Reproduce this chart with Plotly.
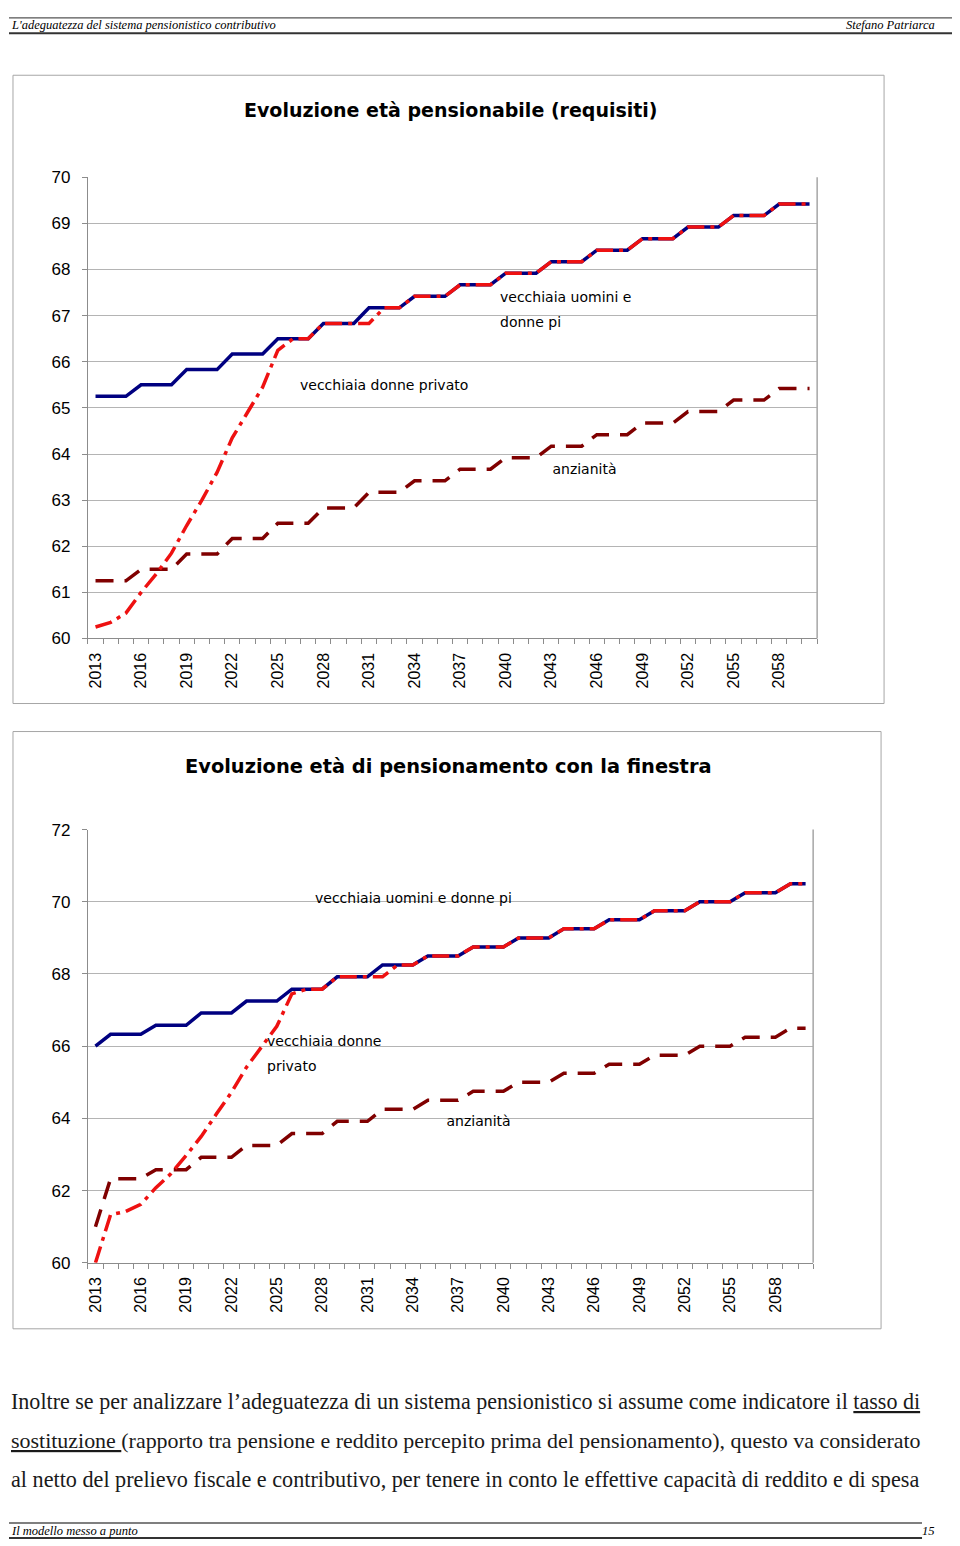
import plotly.graph_objects as go

# ---------------- data ----------------
years = list(range(2013, 2061))
tick_years = [2013, 2016, 2019, 2022, 2025, 2028, 2031, 2034, 2037, 2040,
              2043, 2046, 2049, 2052, 2055, 2058]
tick_labels = [str(v) for v in tick_years]

# Chart 1: Evoluzione età pensionabile (requisiti)
c1_uomini = [65.25, 65.25, 65.25, 65.5, 65.5, 65.5, 65.83, 65.83, 65.83,
             66.17, 66.17, 66.17, 66.5, 66.5, 66.5, 66.83, 66.83, 66.83,
             67.17, 67.17, 67.17, 67.42, 67.42, 67.42, 67.67, 67.67, 67.67,
             67.92, 67.92, 67.92, 68.17, 68.17, 68.17, 68.42, 68.42, 68.42,
             68.67, 68.67, 68.67, 68.92, 68.92, 68.92, 69.17, 69.17, 69.17,
             69.42, 69.42, 69.42]
c1_donne_priv = [60.25, 60.35, 60.55, 61.0, 61.4, 61.85, 62.45, 63.0, 63.6,
                 64.35, 64.9, 65.45, 66.25, 66.5, 66.5, 66.83, 66.83, 66.83,
                 66.83, 67.17, 67.17, 67.42, 67.42, 67.42, 67.67, 67.67, 67.67,
                 67.92, 67.92, 67.92, 68.17, 68.17, 68.17, 68.42, 68.42, 68.42,
                 68.67, 68.67, 68.67, 68.92, 68.92, 68.92, 69.17, 69.17, 69.17,
                 69.42, 69.42, 69.42]
c1_anzianita = [61.25, 61.25, 61.25, 61.5, 61.5, 61.5, 61.83, 61.83, 61.83,
                62.17, 62.17, 62.17, 62.5, 62.5, 62.5, 62.83, 62.83, 62.83,
                63.17, 63.17, 63.17, 63.42, 63.42, 63.42, 63.67, 63.67, 63.67,
                63.92, 63.92, 63.92, 64.17, 64.17, 64.17, 64.42, 64.42, 64.42,
                64.67, 64.67, 64.67, 64.92, 64.92, 64.92, 65.17, 65.17, 65.17,
                65.42, 65.42, 65.42]

# Chart 2: Evoluzione età di pensionamento con la finestra
c2_uomini = [66.0, 66.33, 66.33, 66.33, 66.58, 66.58, 66.58, 66.92, 66.92, 66.92,
             67.25, 67.25, 67.25, 67.58, 67.58, 67.58, 67.92, 67.92, 67.92,
             68.25, 68.25, 68.25, 68.5, 68.5, 68.5, 68.75, 68.75, 68.75,
             69.0, 69.0, 69.0, 69.25, 69.25, 69.25, 69.5, 69.5, 69.5,
             69.75, 69.75, 69.75, 70.0, 70.0, 70.0, 70.25, 70.25, 70.25,
             70.5, 70.5]
c2_donne_priv = [60.0, 61.33, 61.42, 61.62, 62.08, 62.47, 62.97, 63.5, 64.12,
                 64.72, 65.42, 65.98, 66.55, 67.45, 67.58, 67.58, 67.92, 67.92,
                 67.92, 67.92, 68.25, 68.25, 68.5, 68.5, 68.5, 68.75, 68.75, 68.75,
                 69.0, 69.0, 69.0, 69.25, 69.25, 69.25, 69.5, 69.5, 69.5,
                 69.75, 69.75, 69.75, 70.0, 70.0, 70.0, 70.25, 70.25, 70.25,
                 70.5, 70.5]
c2_anzianita = [61.0, 62.33, 62.33, 62.33, 62.58, 62.58, 62.58, 62.92, 62.92, 62.92,
                63.25, 63.25, 63.25, 63.58, 63.58, 63.58, 63.92, 63.92, 63.92,
                64.25, 64.25, 64.25, 64.5, 64.5, 64.5, 64.75, 64.75, 64.75,
                65.0, 65.0, 65.0, 65.25, 65.25, 65.25, 65.5, 65.5, 65.5,
                65.75, 65.75, 65.75, 66.0, 66.0, 66.0, 66.25, 66.25, 66.25,
                66.5, 66.5]

# ---------------- layout helpers ----------------
# The page places the figure ~8px from the left and ~17px from the top, and the
# captured page is squeezed vertically by about 0.987; positions below are given
# in the target picture's pixels and converted here.
OFFX, OFFY = 8, 17
SY = 0.9872
W, H = 960 - 2 * OFFX, 1538


def px(x):
    return (x - OFFX) / W


def py(y):
    return 1 - (y / SY - OFFY) / H


NAVY = "#000080"
RED = "#ee1111"
DARKRED = "#800000"
GRID = "#b4b4b4"
AXIS = "#8c8c8c"
LABEL_FONT = "Comic Sans MS, DejaVu Sans, sans-serif"
TICK_FONT = "Liberation Sans, Arial, sans-serif"
SERIF = "Liberation Serif, Times New Roman, serif"

fig = go.Figure()

for xa, ya, anz, uom, don in [("x", "y", c1_anzianita, c1_uomini, c1_donne_priv),
                              ("x2", "y2", c2_anzianita, c2_uomini, c2_donne_priv)]:
    fig.add_trace(go.Scatter(x=years, y=anz, mode="lines", xaxis=xa, yaxis=ya,
                             name="anzianità",
                             line=dict(color=DARKRED, width=3.5, dash="18px,11px")))
    fig.add_trace(go.Scatter(x=years, y=uom, mode="lines", xaxis=xa, yaxis=ya,
                             name="vecchiaia uomini e donne pi",
                             line=dict(color=NAVY, width=3.5)))
    fig.add_trace(go.Scatter(x=years, y=don, mode="lines", xaxis=xa, yaxis=ya,
                             name="vecchiaia donne privato",
                             line=dict(color=RED, width=3.5, dash="17px,6px,4px,6px")))

# "anzianità" labels, cut at the bottom like in the original (clipped by a small overlay axis)
for xa, ya in [("x3", "y3"), ("x4", "y4")]:
    fig.add_trace(go.Scatter(x=[0], y=[6], mode="text", text=["anzianità"],
                             textposition="middle right", cliponaxis=True,
                             xaxis=xa, yaxis=ya, hoverinfo="skip",
                             textfont=dict(family=LABEL_FONT, size=14, color="#000")))


def xaxis_cfg(x0, x1, anchor):
    return dict(domain=[px(x0), px(x1)], range=[2012.5, 2060.5], anchor=anchor,
                tickmode="array", tickvals=tick_years, ticktext=tick_labels,
                tickangle=-90, tickfont=dict(family=TICK_FONT, size=16, color="#000"),
                ticks="", showgrid=False, zeroline=False,
                showline=True, linecolor=AXIS, linewidth=1,
                ticklabelstandoff=7,
                minor=dict(tickmode="linear", tick0=2012.5, dtick=1, ticks="outside",
                           ticklen=5, tickcolor=AXIS, showgrid=False),
                fixedrange=True)


def yaxis_cfg(y0, y1, rng, dt, anchor):
    return dict(domain=[py(y1), py(y0)], range=rng, dtick=dt, tick0=rng[0], anchor=anchor,
                tickfont=dict(family=TICK_FONT, size=17, color="#000"),
                showgrid=True, gridcolor=GRID, gridwidth=1, zeroline=False,
                showline=True, linecolor=AXIS, linewidth=1,
                ticks="outside", ticklen=5, tickcolor=AXIS,
                ticklabelstandoff=8, fixedrange=True)


def hidden_axis(d, rng, anchor):
    return dict(domain=d, range=rng, visible=False, showgrid=False, zeroline=False,
                anchor=anchor, fixedrange=True)


fig.update_layout(
    width=W, height=H,
    margin=dict(l=0, r=0, t=0, b=0),
    paper_bgcolor="white", plot_bgcolor="rgba(0,0,0,0)",
    showlegend=False,
    xaxis=xaxis_cfg(87, 817, "y"),
    yaxis=yaxis_cfg(177, 638, [60, 70], 1, "x"),
    xaxis2=xaxis_cfg(87, 813, "y2"),
    yaxis2=yaxis_cfg(829, 1262, [60, 72], 2, "x2"),
    xaxis3=hidden_axis([px(552), px(680)], [0, 128], "y3"),
    yaxis3=hidden_axis([py(476.5), py(446.5)], [0, 30], "x3"),
    xaxis4=hidden_axis([px(446), px(580)], [0, 134], "y4"),
    yaxis4=hidden_axis([py(1128), py(1098)], [0, 30], "x4"),
)

shapes = []
# chart frames
shapes.append(dict(type="rect", xref="paper", yref="paper", x0=px(12), x1=px(884),
                   y0=py(703), y1=py(75), line=dict(color="#a6a6a6", width=1)))
shapes.append(dict(type="rect", xref="paper", yref="paper", x0=px(12), x1=px(881),
                   y0=py(1328), y1=py(731), line=dict(color="#a6a6a6", width=1)))
# plot-area borders (right side)
shapes.append(dict(type="line", xref="paper", yref="paper", x0=px(817), x1=px(817),
                   y0=py(638), y1=py(177), line=dict(color="#a6a6a6", width=1.5)))
shapes.append(dict(type="line", xref="paper", yref="paper", x0=px(813), x1=px(813),
                   y0=py(1262), y1=py(829), line=dict(color="#a6a6a6", width=1.5)))
# header and footer rules
shapes.append(dict(type="line", xref="paper", yref="paper", x0=px(8), x1=px(952),
                   y0=py(17.6), y1=py(17.6), line=dict(color="#555", width=1.2)))
shapes.append(dict(type="line", xref="paper", yref="paper", x0=px(8), x1=px(952),
                   y0=py(33), y1=py(33), line=dict(color="#333", width=2)))
shapes.append(dict(type="line", xref="paper", yref="paper", x0=px(8), x1=px(922),
                   y0=py(1522), y1=py(1522), line=dict(color="#555", width=1.5)))
shapes.append(dict(type="line", xref="paper", yref="paper", x0=px(8), x1=px(922),
                   y0=py(1537), y1=py(1537), line=dict(color="#333", width=2)))
fig.update_layout(shapes=shapes)

ann = []


def text(x, y, s, size, family, xanchor="left", color="#000", **kw):
    ann.append(dict(x=px(x), y=py(y), xref="paper", yref="paper", text=s,
                    showarrow=False, xanchor=xanchor, yanchor="middle",
                    font=dict(family=family, size=size, color=color), **kw))


# header / footer
text(8, 25, "<i>L'adeguatezza del sistema pensionistico contributivo</i>", 12.5, SERIF)
text(937, 25, "<i>Stefano Patriarca</i>", 12.5, SERIF, xanchor="right")
text(8, 1530, "<i>Il modello messo a punto</i>", 12.5, SERIF)
text(937, 1530, "<i>15</i>", 12.5, SERIF, xanchor="right")

# chart titles
text(450, 110, "<b>Evoluzione età pensionabile (requisiti)</b>", 19, LABEL_FONT, xanchor="center")
text(448, 766, "<b>Evoluzione età di pensionamento con la finestra</b>", 19.4, LABEL_FONT, xanchor="center")

# chart 1 series labels
text(498, 297, "vecchiaia uomini e", 14, LABEL_FONT)
text(498, 322, "donne pi", 14, LABEL_FONT)
text(297, 385, "vecchiaia donne privato", 14, LABEL_FONT)

# chart 2 series labels
text(312, 897, "vecchiaia uomini e donne pi", 14, LABEL_FONT)
text(264, 1040, "vecchiaia donne", 14, LABEL_FONT)
text(264, 1065, "privato", 14, LABEL_FONT)

# body text
text(8, 1401, "Inoltre se per analizzare l’adeguatezza di un sistema pensionistico si assume come indicatore il <u>tasso di</u>", 22.05, SERIF, color="#1a1a1a")
text(8, 1440, "<u>sostituzione </u>(rapporto tra pensione e reddito percepito prima del pensionamento), questo va considerato", 21.95, SERIF, color="#1a1a1a")
text(8, 1479, "al netto del prelievo fiscale e contributivo, per tenere in conto le effettive capacità di reddito e di spesa", 22.2, SERIF, color="#1a1a1a")

fig.update_layout(annotations=ann)

fig.write_html("out.html")
